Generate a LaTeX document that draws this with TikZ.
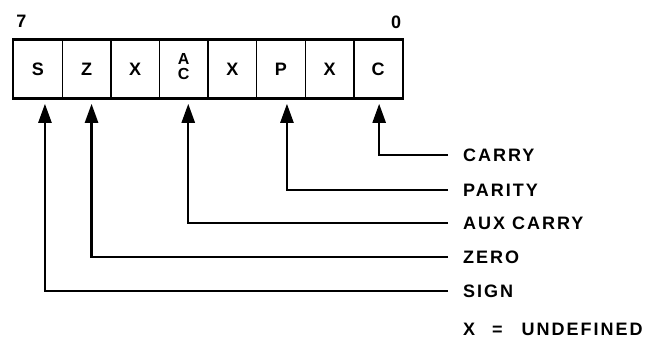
\documentclass[tikz,border=0pt]{standalone}
\usepackage{fontspec}
\setmainfont{Liberation Sans}[LetterSpace=11]
\usetikzlibrary{arrows.meta}
\begin{document}
\begin{tikzpicture}[x=1pt,y=-1pt,
  lbl/.style={font=\fontsize{18}{20}\selectfont\bfseries, inner sep=0pt, anchor=west, text height=12.9pt, text depth=0pt},
  cell/.style={draw, line width=1.3pt, minimum width=48.6pt, minimum height=58pt, inner sep=0pt, anchor=north west,
    font=\fontsize{18}{20}\selectfont\bfseries},
  small/.style={font=\fontsize{16}{16}\selectfont\bfseries, inner sep=0pt},
  arr/.style={line width=2.4pt, -{Triangle[length=19pt,width=13pt]}, shorten >=5pt, shorten <=15pt}]
\useasboundingbox (0,0) rectangle (663,339);
\node[cell] (c7) at (13,39.5) {S};
\node[cell] (c6) at (61.6,39.5) {Z};
\node[cell] (c5) at (110.2,39.5) {X};
\node[cell] (c4) at (158.8,39.5) {};
\node[cell] (c3) at (207.4,39.5) {X};
\node[cell] (c2) at (256,39.5) {P};
\node[cell] (c1) at (304.6,39.5) {X};
\node[cell] (c0) at (353.2,39.5) {C};
\node[small] (ta) at ([yshift=10.5pt]c4.center) {A};
\node[small] (tc) at ([yshift=-4.5pt]c4.center) {C};
\draw[line width=2.6pt] (c7.north west) rectangle (c0.south east);
\node[lbl, anchor=center] (b7) at (21.5,21) {7};
\node[lbl, anchor=center] (b0) at (396,22) {0};
\node[lbl] (lc) at (463,155) {CARRY};
\node[lbl] (lp) at (463,190) {PARITY};
\node[lbl] (la) at (463,223) {AUX CARRY};
\node[lbl] (lz) at (463,257) {ZERO};
\node[lbl] (ls) at (463,291) {SIGN};
\node[lbl] (lx) at (463,329) {X\hspace{17pt}=\hspace{19pt}UNDEFINED};
\draw[arr] (lc.west) -| ([xshift=1pt]c0.south);
\draw[arr] (lp.west) -| ([xshift=6pt]c2.south);
\draw[arr] (la.west) -| ([xshift=4.5pt]c4.south);
\draw[arr] (lz.west) -| ([xshift=5pt]c6.south);
\draw[arr] (ls.west) -| ([xshift=7pt]c7.south);
\end{tikzpicture}
\end{document}
